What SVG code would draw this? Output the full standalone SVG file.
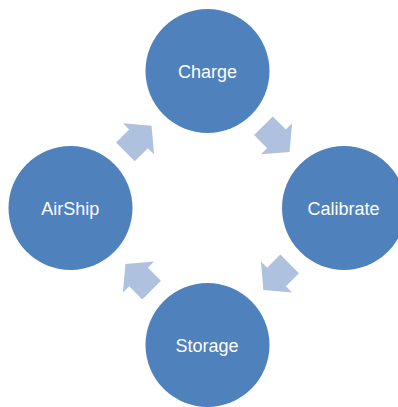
<svg xmlns="http://www.w3.org/2000/svg" width="398" height="407" viewBox="0 0 398 407">
<style>
.node{fill:#4F81BD}
.lbl{font-family:"Liberation Sans",Arial,sans-serif;font-size:18px;fill:#FFFFFF;text-anchor:middle}
.arr{fill:#AEC1DE}
</style>
<defs>
<path id="arrow" d="M-18.5,-13.2 L0,-13.2 L0,-22 L18.5,0 L0,22 L0,13.2 L-18.5,13.2 Z"/>
</defs>
<rect width="398" height="407" fill="#FFFFFF"/>
<g id="connectors">
<use href="#arrow" class="arr" transform="translate(138.5,138.8) rotate(-45)"/>
<use href="#arrow" class="arr" transform="translate(276.5,138.8) rotate(45)"/>
<use href="#arrow" class="arr" transform="translate(276.5,277) rotate(135)"/>
<use href="#arrow" class="arr" transform="translate(138.5,277) rotate(-135)"/>
</g>
<g id="charge">
<circle class="node" cx="207.5" cy="71" r="62"/>
<text class="lbl" x="207.5" y="77.5">Charge</text>
</g>
<g id="calibrate">
<circle class="node" cx="344" cy="208" r="62"/>
<text class="lbl" x="343.5" y="214.8">Calibrate</text>
</g>
<g id="storage">
<circle class="node" cx="207.5" cy="345" r="62"/>
<text class="lbl" x="207" y="351.6">Storage</text>
</g>
<g id="airship">
<circle class="node" cx="70.5" cy="208" r="62"/>
<text class="lbl" x="70.3" y="214.8">AirShip</text>
</g>
</svg>
